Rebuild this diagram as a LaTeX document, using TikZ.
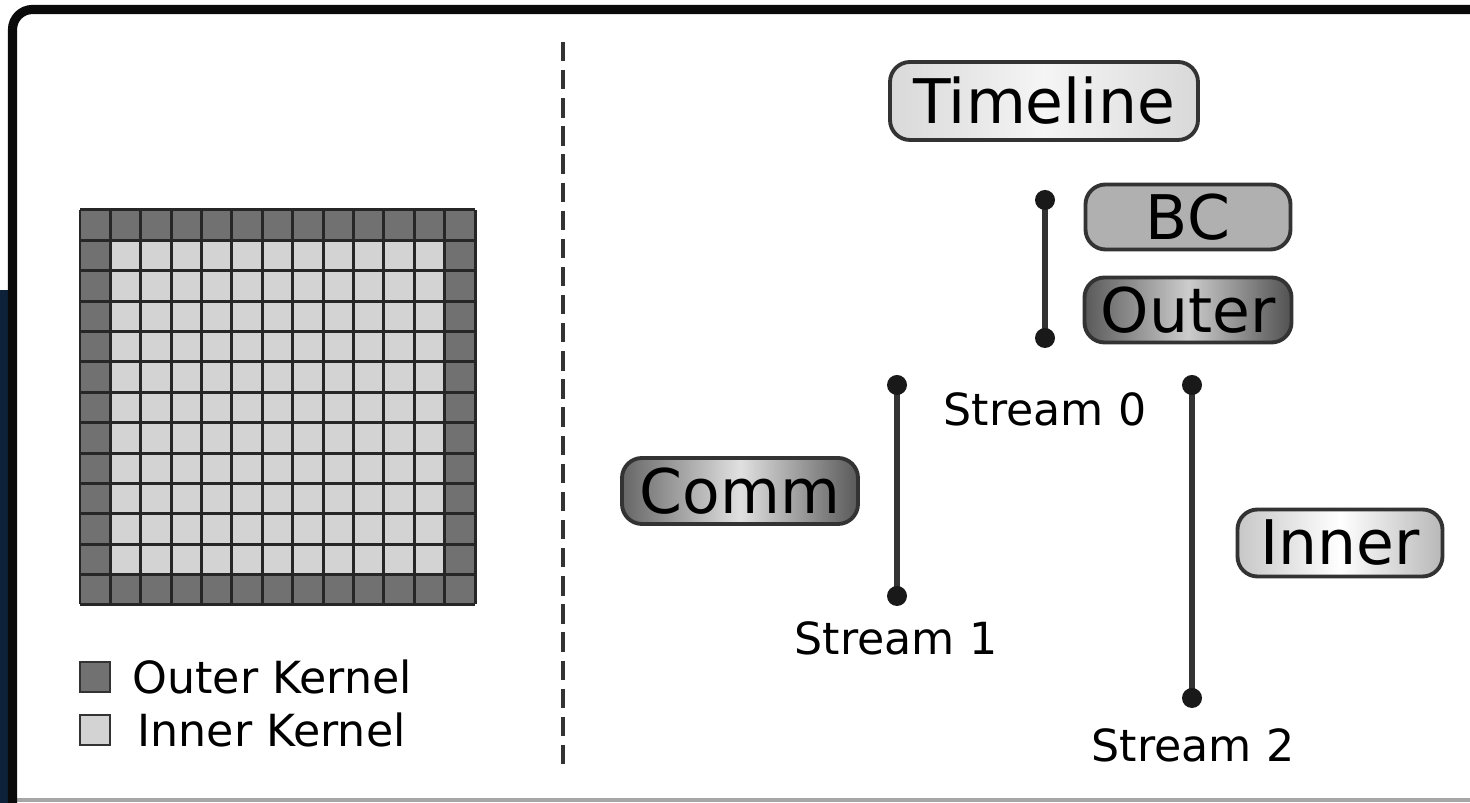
\documentclass[tikz,border=0pt]{standalone}
\usepackage{fontspec}
\setmainfont{DejaVu Sans}
\usepackage{tikz}
\usetikzlibrary{shapes,arrows}
\usetikzlibrary{positioning}
\usetikzlibrary{calc}

\definecolor{frameblk}{HTML}{0A0A0A}
\definecolor{navy}{HTML}{0D2238}
\definecolor{outerk}{HTML}{717171}
\definecolor{innerk}{HTML}{D3D3D3}
\definecolor{linegray}{HTML}{333333}

\begin{document}
\begin{tikzpicture}[x=0.1mm,y=-0.1mm,
	box/.style={draw=linegray,line width=1.1pt,rectangle,rounded corners=2mm,
		inner sep=0pt,font=\fontsize{17.5}{20}\selectfont},
	lbl/.style={font=\fontsize{12.6}{15}\selectfont,inner sep=0pt},
	stream/.style={linegray,line width=1.6pt},
	]
	% Frame
	% ----------
	\useasboundingbox (0,0) rectangle (1470,803);
	\fill[white] (0,0) rectangle (1470,803);
	\fill[navy] (0,290) rectangle (8,803);
	\draw[gray!70,line width=1pt] (10,800) -- (1470,800);
	\draw[frameblk,line width=2.6pt,rounded corners=2mm] (12.5,803) -- (12.5,9.5) -- (1470,9.5);

	% Grid of kernels
	% ----------
	\def\cs{30.385}
	\fill[outerk] (80,210) rectangle (475,604);
	\fill[innerk] (80+\cs,210+\cs) rectangle (475-\cs,604-\cs);
	\foreach \k in {0,...,13}{
		\draw[black!85,line width=0.85pt] (80+\k*\cs,210) -- (80+\k*\cs,604);
		\draw[black!85,line width=0.85pt] (80,210+\k*\cs) -- (475,210+\k*\cs);
	}

	% legend
	\node[draw=black!80,fill=outerk,line width=0.6pt,minimum size=3mm,inner sep=0pt] (sqOuter) at (95,677) {};
	\node[draw=black!80,fill=innerk,line width=0.6pt,minimum size=3mm,inner sep=0pt] (sqInner) at (95,730) {};
	\node[lbl,anchor=west] (legOuter) at (132,677) {Outer Kernel};
	\node[lbl,anchor=west] (legInner) at (137,730) {Inner Kernel};

	% separator
	\coordinate (sepTop) at (563,42);
	\coordinate (sepBot) at (563,772);
	\draw[linegray,line width=1.4pt,dash pattern=on 5.5pt off 2.5pt] (sepTop) -- (sepBot);

	% Timeline
	% ----------
	\node[box,minimum width=30.8mm,minimum height=7.8mm,left color=gray!30,right color=gray!30,middle color=gray!8]
		(Timeline) at (1044,101) {Timeline};
	\node[box,minimum width=20.5mm,minimum height=6.5mm,fill=gray!62]
		(BC) at (1188,217) {BC};
	\node[box,minimum width=20.7mm,minimum height=6.5mm,left color=black!65,right color=black!68,middle color=black!20]
		(Outer) at (1188,310) {Outer};
	\node[box,minimum width=23.6mm,minimum height=6.6mm,left color=black!60,right color=black!65,middle color=black!12]
		(Comm) at (740,491) {Comm};
	\node[box,minimum width=20.5mm,minimum height=6.7mm,left color=black!22,right color=black!28,middle color=white]
		(Inner) at (1340,543) {Inner};

	% streams
	\coordinate (s0top) at (1045,200);
	\coordinate (s0bot) at (1045,338);
	\coordinate (s1top) at (897,385);
	\coordinate (s1bot) at (897,596);
	\coordinate (s2top) at (1192,385);
	\coordinate (s2bot) at (1192,698);
	\draw[stream] (s0top) -- (s0bot);
	\draw[stream] (s1top) -- (s1bot);
	\draw[stream] (s2top) -- (s2bot);
	\foreach \p in {s0top,s0bot,s1top,s1bot,s2top,s2bot}
		\fill[black!90] (\p) circle (1mm);
	\node[lbl] (Stream0) at (1045,409) {Stream 0};
	\node[lbl] (Stream1) at (896,638) {Stream 1};
	\node[lbl] (Stream2) at (1193,745) {Stream 2};
\end{tikzpicture}
\end{document}
